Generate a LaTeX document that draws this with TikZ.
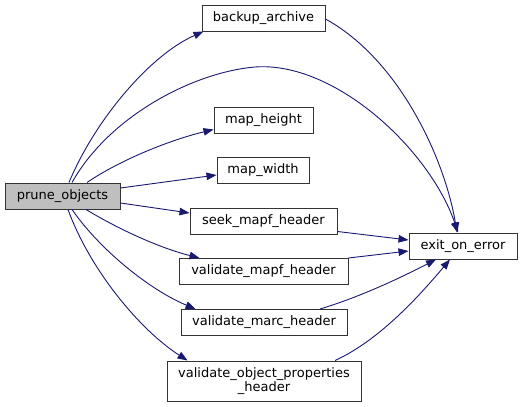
\documentclass[tikz,border=0pt]{standalone}
\usepackage{fontspec}
\setmainfont{DejaVu Sans}
\usetikzlibrary{arrows.meta}
\definecolor{edgeblue}{HTML}{191970}
\definecolor{rootgray}{HTML}{BFBFBF}

\begin{document}
\begin{tikzpicture}[
        x=1pt, y=-1pt,
        func/.style={rectangle, draw=black!80, line width=1pt, fill=white, minimum height=26pt, inner sep=2pt, text centered, font=\fontsize{13}{15}\selectfont},
        root/.style={func, fill=rootgray},
        call/.style={draw=edgeblue, line width=0.9pt, -{Triangle[length=10pt, width=7.5pt]}}
    ]
        \useasboundingbox (0,0) rectangle (523,407);

        % Nodes
        \node (prune) at (62.5, 196) [root, minimum width=115pt] {prune\_objects};
        \node (backup) at (263.5, 18) [func, minimum width=123pt] {backup\_archive};
        \node (mapheight) at (263.5, 120) [func, minimum width=99pt] {map\_height};
        \node (mapwidth) at (263, 170) [func, minimum width=92pt] {map\_width};
        \node (seek) at (263.5, 221) [func, minimum width=147pt] {seek\_mapf\_header};
        \node (valmapf) at (263.5, 271.5) [func, minimum width=169pt] {validate\_mapf\_header};
        \node (valmarc) at (264, 322.5) [func, minimum width=166pt] {validate\_marc\_header};
        \node (valobj) at (264, 381) [func, minimum width=194pt, minimum height=40pt, align=center, inner sep=1pt, font=\fontsize{13}{14}\selectfont] {validate\_object\_properties\\\_header};
        \node (exit) at (463, 246) [func, minimum width=108pt] {exit\_on\_error};

        % Arrows
        \draw[call] ([xshift=6.5pt]prune.north) .. controls (95,120) and (150,55) .. ([xshift=2pt]backup.south west);
        \draw[call] ([xshift=9.5pt]prune.north) .. controls (110,115) and (195,72) .. (255,67)
            .. controls (335,61) and (430,150) .. ([xshift=-5pt]exit.north);
        \draw[call] ([yshift=-1pt]backup.east) .. controls (400,60) and (445,160) .. ([xshift=-6pt]exit.north);
        \draw[call] ([xshift=24.5pt]prune.north) .. controls (120,160) and (170,140) .. ([yshift=4pt]mapheight.south west);
        \draw[call] ([yshift=8pt]prune.east) -- ([yshift=-5pt]mapwidth.west);
        \draw[call] ([yshift=-7pt]prune.east) -- ([yshift=8pt]seek.west);
        \draw[call] ([xshift=23.5pt]prune.south) .. controls (120,230) and (160,248) .. ([xshift=21pt]valmapf.north west);
        \draw[call] ([xshift=9.5pt]prune.south) .. controls (100,250) and (150,290) .. ([xshift=15pt]valmarc.north west);
        \draw[call] ([xshift=5.5pt]prune.south) .. controls (90,270) and (140,330) .. ([xshift=21pt]valobj.north west);

        \draw[call] ([yshift=3pt]seek.south east) -- ([yshift=6pt]exit.west);
        \draw[call] (valmapf.north east) -- ([yshift=-5pt]exit.west);
        \draw[call] ([xshift=56pt]valmarc.north) .. controls (360,297) and (400,278) .. ([xshift=-27pt]exit.south);
        \draw[call] ([xshift=71pt]valobj.north) .. controls (380,340) and (420,295) .. ([xshift=-13pt]exit.south);

    \end{tikzpicture}
\end{document}
